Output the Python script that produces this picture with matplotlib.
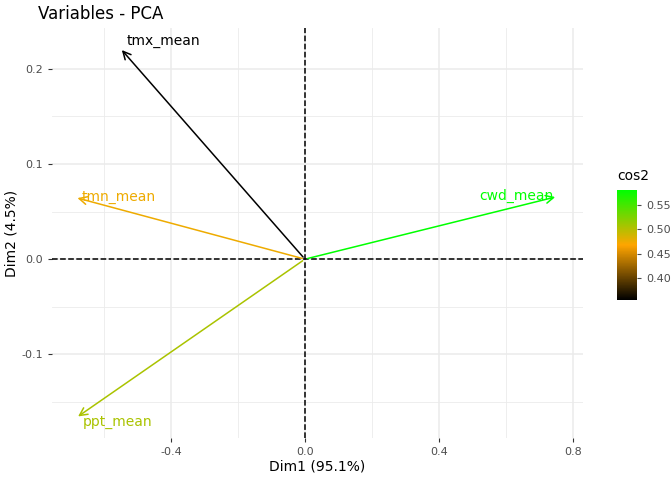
import matplotlib
matplotlib.use("Agg")
import matplotlib.pyplot as plt
import numpy as np
from matplotlib.colors import LinearSegmentedColormap, Normalize

names = ["tmx_mean", "tmn_mean", "ppt_mean", "cwd_mean"]
dim1 = [-0.552, -0.687, -0.684, 0.755]
dim2 = [0.222, 0.065, -0.167, 0.066]
cos2 = [0.355, 0.475, 0.505, 0.58]

cmap = LinearSegmentedColormap.from_list("c", ["black", "#FFA500", "#00FF00"])
norm = Normalize(0.355, 0.58)

fig = plt.figure(figsize=(6.72, 4.8), dpi=100)
ax = fig.add_axes([52/672, 1 - 438/480, (583-52)/672, (438-28)/480])
ax.set_facecolor("white")
ax.set_xlim(-0.755, 0.83)
ax.set_ylim(-0.188, 0.243)
for x in np.arange(-0.6, 0.81, 0.2):
    ax.axvline(x, color="#ebebeb", lw=0.6 if round(x*10) % 4 else 1.1, zorder=0)
for y in np.arange(-0.15, 0.25, 0.05):
    ax.axhline(y, color="#ebebeb", lw=1.1 if round(y*100) % 10 == 0 else 0.6, zorder=0)
for s in ax.spines.values():
    s.set_visible(False)
ax.axhline(0, color="black", ls="--", lw=1.1)
ax.axvline(0, color="black", ls="--", lw=1.1)

offs = {"tmx_mean": (5, 5, "left"), "tmn_mean": (5, 0, "left"),
        "ppt_mean": (5, -3, "left"), "cwd_mean": (-3, 0, "right")}
for n, x, y, c in zip(names, dim1, dim2, cos2):
    col = cmap(norm(c))
    ax.annotate("", xy=(x, y), xytext=(0, 0),
                arrowprops=dict(arrowstyle="->", color=col, lw=1.1, mutation_scale=14))
    dx, dy, ha = offs[n]
    ax.annotate(n, xy=(x, y), xytext=(dx, dy), textcoords="offset points",
                ha=ha, va="center", color=col, fontsize=10)

ax.set_xticks([-0.4, 0.0, 0.4, 0.8])
ax.set_xticklabels(["-0.4", "0.0", "0.4", "0.8"])
ax.set_yticks([-0.1, 0.0, 0.1, 0.2])
ax.set_yticklabels(["-0.1", "0.0", "0.1", "0.2"])
ax.tick_params(colors="#4d4d4d", labelsize=8, length=3)
ax.tick_params(axis="both", color="#333333")
ax.set_xlabel("Dim1 (95.1%)", fontsize=10, labelpad=2)
ax.set_ylabel("Dim2 (4.5%)", fontsize=10, labelpad=2)
fig.text(38/672, 1 - 14/480, "Variables - PCA", fontsize=12, va="center")

cax = fig.add_axes([617/672, 1 - 300/480, 20/672, 110/480])
sm = plt.cm.ScalarMappable(norm=norm, cmap=cmap)
cb = fig.colorbar(sm, cax=cax, ticks=[0.40, 0.45, 0.50, 0.55])
cb.outline.set_visible(False)
cb.ax.tick_params(labelsize=8, colors="#4d4d4d", length=3)
cb.ax.set_yticklabels(["0.40", "0.45", "0.50", "0.55"])
fig.text(617/672, 1 - 176/480, "cos2", fontsize=10, va="center")

fig.savefig("out.png", dpi=100)
